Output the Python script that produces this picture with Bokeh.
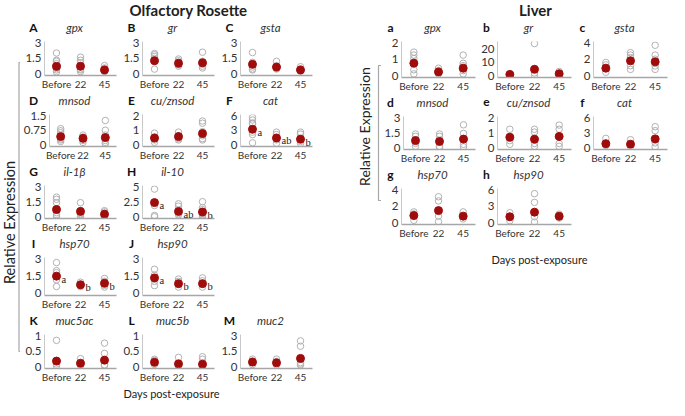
import math
from bokeh.plotting import figure
from bokeh.models import FactorRange, Range1d, FixedTicker, Label, LabelSet, ColumnDataSource, Spacer
from bokeh.layouts import row, column
from bokeh.embed import file_html
from bokeh.resources import INLINE

FONT = "Lato"
groups = ["Before", "22", "45"]

# ---------------- Olfactory rosette data ----------------
or_gpx_pts = [[2.0, 1.3, 1.2, 0.97, 0.5, 0.36, 0.17], [1.6, 1.3, 1.05, 0.64, 0.45, 0.36, 0.2], [0.78, 0.55, 0.44, 0.3, 0.2]]
or_gpx_mean = [0.7, 0.72, 0.36]
or_gr_pts = [[1.95, 1.83, 1.67, 1.47, 0.44], [1.42, 1.25, 1.1, 0.85, 0.72], [2.08, 1.2, 0.9, 0.72, 0.55]]
or_gr_mean = [1.25, 1.0, 1.05]
or_gsta_pts = [[2.05, 1.1, 0.64, 0.45, 0.36], [1.2, 0.75, 0.5, 0.45], [0.67, 0.45, 0.3, 0.22]]
or_gsta_mean = [0.9, 0.64, 0.36]
or_mnsod_pts = [[0.83, 0.72, 0.62, 0.3, 0.25, 0.17], [0.5, 0.4, 0.22, 0.12], [1.25, 0.75, 0.5, 0.22, 0.12, 0.05]]
or_mnsod_mean = [0.42, 0.33, 0.37]
or_cuzn_pts = [[0.8, 0.55, 0.33, 0.17], [0.87, 0.62, 0.42, 0.33], [1.63, 1.48, 0.9, 0.62, 0.42, 0.33]]
or_cuzn_mean = [0.46, 0.56, 0.77]
or_cat_pts = [[5.6, 5.1, 4.5, 4.3, 2.6, 2.1, 0.4], [2.6, 2.1, 1.0, 0.3], [2.6, 2.2, 0.7, 0.3]]
or_cat_mean = [3.2, 1.4, 1.15]
or_cat_sig = ["a", "ab", "b"]
or_il1b_pts = [[1.96, 1.74, 1.4, 0.4, 0.2, 0.06], [1.4, 0.62, 0.3, 0.2, 0.0], [0.6, 0.48, 0.34, 0.05]]
or_il1b_mean = [0.72, 0.53, 0.25]
or_il10_pts = [[4.6, 1.86, 0.2, 0.0], [2.15, 1.76, 0.54, 0.3], [2.5, 1.52, 1.18, 0.5, 0.3, 0.0]]
or_il10_mean = [2.35, 0.88, 0.78]
or_il10_sig = ["a", "ab", "b"]
or_hsp70_pts = [[2.68, 1.98, 1.8, 1.18, 0.6], [0.98, 0.7, 0.6], [1.3, 1.05, 0.7, 0.55]]
or_hsp70_mean = [1.5, 0.75, 0.88]
or_hsp70_sig = ["a", "b", "b"]
or_hsp90_pts = [[2.1, 1.6, 1.05, 0.68], [1.25, 1.05, 0.55], [1.35, 1.1, 0.55]]
or_hsp90_mean = [1.35, 0.85, 0.85]
or_hsp90_sig = ["a", "b", "b"]
or_muc5ac_pts = [[0.85, 0.09, 0.03], [0.26, 0.06, 0.04], [0.76, 0.43, 0.06, 0.04]]
or_muc5ac_mean = [0.18, 0.11, 0.21]
or_muc5b_pts = [[0.24, 0.2, 0.07], [0.3, 0.05, 0.01], [0.32, 0.24, 0.04, 0.01]]
or_muc5b_mean = [0.14, 0.09, 0.08]
or_muc2_pts = [[0.73, 0.55, 0.2], [0.73, 0.5, 0.15], [2.5, 1.98, 0.39, 0.25, 0.15]]
or_muc2_mean = [0.44, 0.37, 0.8]

# ---------------- Liver data ----------------
lv_gpx_pts = [[1.43, 1.25, 1.04, 0.84, 0.35, 0.1], [0.45, 0.3, 0.1], [1.25, 0.75, 0.6, 0.3, 0.1]]
lv_gpx_mean = [0.75, 0.22, 0.45]
lv_gr_pts = [[1.5, 0.5, 0.1], [24.0, 2.2, 0.4], [3.3, 0.4]]
lv_gr_mean = [1.1, 4.9, 1.6]
lv_gsta_pts = [[1.6, 1.3, 0.4], [2.8, 2.5, 2.2, 1.2, 0.75], [3.7, 2.5, 2.0, 1.17, 0.75]]
lv_gsta_mean = [0.9, 1.8, 1.67]
lv_mnsod_pts = [[1.37, 1.14, 0.43, 0.14], [1.37, 1.14, 0.14, 0.0], [2.29, 1.43, 0.34, 0.09]]
lv_mnsod_mean = [0.71, 0.63, 0.86]
lv_cuzn_pts = [[1.23, 0.47, 0.23], [1.23, 1.04, 0.28, 0.09], [1.51, 1.23, 0.28, 0.09]]
lv_cuzn_mean = [0.7, 0.57, 0.75]
lv_cat_pts = [[1.87, 0.43], [1.6, 0.27], [4.2, 3.4, 0.96, 0.16]]
lv_cat_mean = [0.8, 0.7, 1.76]
lv_hsp70_pts = [[1.3, 1.05, 0.27], [3.15, 2.64, 0.78, 0.1], [1.3, 0.44]]
lv_hsp70_mean = [0.85, 1.46, 0.78]
lv_hsp90_pts = [[1.8, 0.34], [5.3, 3.7, 1.06, 0.1], [1.54, 0.82]]
lv_hsp90_mean = [1.06, 1.9, 1.15]

# y ticks per panel
t_3 = [0, 1.5, 3]
t_15 = [0, 0.75, 1.5]
t_2 = [0, 1, 2]
t_6 = [0, 3, 6]
t_5 = [0, 2.5, 5]
t_1 = [0, 0.5, 1]
t_20 = [0, 10, 20]
t_4 = [0, 2, 4]

CIRCLE = "#b2b2b2"
MEAN = "#a00c0c"
TXT = "#333333"
HH = 15      # header strip height
LY = 7.5     # letter / gene (middle) inside header


def fmt(v):
    return ("%g" % v)


def panel(pts, means, ticks, W, H, BL, BR, BB, sig=None, yend=None):
    top = ticks[-1]
    end = yend if yend else top * 1.04
    p = figure(width=W, height=H, x_range=FactorRange(factors=groups),
               y_range=Range1d(-0.06 * top, end), output_backend="svg",
               toolbar_location=None, tools="", min_border_left=BL,
               min_border_right=BR, min_border_top=7, min_border_bottom=BB)
    p.outline_line_color = None
    p.grid.grid_line_color = None
    p.background_fill_color = "white"
    p.border_fill_color = "white"
    xa = p.xaxis[0]
    xa.axis_line_color = "#a6a6a6"
    xa.axis_line_width = 1.3
    xa.major_tick_line_color = None
    xa.minor_tick_line_color = None
    xa.major_tick_out = 0
    xa.major_tick_in = 0
    xa.major_label_standoff = 2
    xa.major_label_text_font = FONT
    xa.major_label_text_font_size = "10px"
    xa.major_label_text_color = TXT
    ya = p.yaxis[0]
    ya.ticker = FixedTicker(ticks=ticks)
    ya.major_label_overrides = {t: fmt(t) for t in ticks}
    ya.axis_line_color = "#c8c8c8"
    ya.major_tick_line_color = None
    ya.minor_tick_line_color = None
    ya.major_tick_out = 0
    ya.major_tick_in = 0
    ya.major_label_standoff = 3
    ya.major_label_text_font = FONT
    ya.major_label_text_font_size = "11.5px"
    ya.major_label_text_color = TXT

    xs = [g for g, vals in zip(groups, pts) for _ in vals]
    ys = [v for vals in pts for v in vals]
    p.scatter(x=xs, y=ys, size=6.5, marker="circle", fill_color=None,
              line_color=CIRCLE, line_width=1)
    p.scatter(x=groups, y=means, size=8, marker="circle", fill_color=MEAN,
              line_color=MEAN)
    if sig:
        src = ColumnDataSource(dict(x=groups, y=means, t=sig))
        p.add_layout(LabelSet(x="x", y="y", text="t", source=src, x_offset=5, y_offset=-3,
                              text_font=FONT, text_font_size="10.5px", text_color="#222222",
                              text_align="left", text_baseline="middle"))
    return p


def canvas(W, H):
    p = figure(width=W, height=H, x_range=Range1d(0, W), y_range=Range1d(H, 0),
               output_backend="svg", toolbar_location=None, tools="", min_border=0,
               x_axis_type=None, y_axis_type=None)
    p.outline_line_color = None
    p.background_fill_color = "white"
    p.border_fill_color = "white"
    return p


def add_text(p, x, y, text, size, style="normal", angle=0.0, color="#222222", align="center"):
    p.add_layout(Label(x=x, y=y, text=text, text_font=FONT, text_font_size=size,
                       text_font_style=style, text_color=color, angle=angle,
                       text_align=align, text_baseline="middle"))


def header(W, BL, BR, items):
    h = canvas(3 * W, HH)
    fw = W - BL - BR
    for c, (letter, gene) in enumerate(items):
        x0 = c * W + BL
        add_text(h, x0 - 11, LY, letter, "12px", style="bold", color="#111111")
        add_text(h, x0 + fw / 2 - 6, LY, gene, "11.5px", style="italic", color=TXT)
    return h


# ---------------- Olfactory block ----------------
OW, OBL, OBR, OBB = 98, 24, 2, 16
o_rows = [58, 56, 57, 62, 58]   # panel heights (below each header strip)

def orow(r, specs):
    H = o_rows[r]
    hdr = header(OW, OBL, OBR, [(s[0], s[1]) for s in specs])
    figs = [panel(s[2], s[3], s[4], OW, H, OBL, OBR, OBB, s[5] if len(s) > 5 else None) for s in specs]
    while len(figs) < 3:
        figs.append(Spacer(width=OW, height=H))
    return column(hdr, row(*figs))

o_r1 = orow(0, [("A", "gpx", or_gpx_pts, or_gpx_mean, t_3),
                ("B", "gr", or_gr_pts, or_gr_mean, t_3),
                ("C", "gsta", or_gsta_pts, or_gsta_mean, t_3)])
o_r2 = orow(1, [("D", "mnsod", or_mnsod_pts, or_mnsod_mean, t_15),
                ("E", "cu/znsod", or_cuzn_pts, or_cuzn_mean, t_2),
                ("F", "cat", or_cat_pts, or_cat_mean, t_6, or_cat_sig)])
o_r3 = orow(2, [("G", "il-1β", or_il1b_pts, or_il1b_mean, t_3),
                ("H", "il-10", or_il10_pts, or_il10_mean, t_5, or_il10_sig)])
o_r4 = orow(3, [("I", "hsp70", or_hsp70_pts, or_hsp70_mean, t_3, or_hsp70_sig),
                ("J", "hsp90", or_hsp90_pts, or_hsp90_mean, t_3, or_hsp90_sig)])
o_r5 = orow(4, [("K", "muc5ac", or_muc5ac_pts, or_muc5ac_mean, t_1),
                ("L", "muc5b", or_muc5b_pts, or_muc5b_mean, t_1),
                ("M", "muc2", or_muc2_pts, or_muc2_mean, t_3)])

o_rows_h = sum(HH + h for h in o_rows)
o_rel = canvas(20, o_rows_h)
add_text(o_rel, 9, 203, "Relative Expression", "14.5px", angle=math.pi / 2)
o_rel.line(x=[20, 18.5, 18.5, 20], y=[43, 43, 332, 332], line_color="#a6a6a6", line_width=1.2)

O_BW = 20 + 3 * OW
o_title = canvas(O_BW, 19)
add_text(o_title, 188, 9.5, "Olfactory Rosette", "15px", style="bold")
o_xlab = canvas(O_BW, 15)
add_text(o_xlab, 171, 7.5, "Days post-exposure", "11px")

o_block = column(o_title, row(o_rel, column(o_r1, o_r2, o_r3, o_r4, o_r5)), o_xlab)

# ---------------- Liver block ----------------
LW, LBL, LBR, LBB = 96, 20, 2, 16
l_rows = [60, 57, 60]

def lrow(r, specs):
    H = l_rows[r]
    hdr = header(LW, LBL, LBR, [(s[0], s[1]) for s in specs])
    figs = [panel(s[2], s[3], s[4], LW, H, LBL, LBR, LBB, None, s[5] if len(s) > 5 else None) for s in specs]
    while len(figs) < 3:
        figs.append(Spacer(width=LW, height=H))
    return column(hdr, row(*figs))

l_r1 = lrow(0, [("a", "gpx", lv_gpx_pts, lv_gpx_mean, t_2),
                ("b", "gr", lv_gr_pts, lv_gr_mean, t_20, 25.5),
                ("c", "gsta", lv_gsta_pts, lv_gsta_mean, t_4)])
l_r2 = lrow(1, [("d", "mnsod", lv_mnsod_pts, lv_mnsod_mean, t_3),
                ("e", "cu/znsod", lv_cuzn_pts, lv_cuzn_mean, t_2),
                ("f", "cat", lv_cat_pts, lv_cat_mean, t_6)])
l_r3 = lrow(2, [("g", "hsp70", lv_hsp70_pts, lv_hsp70_mean, t_4),
                ("h", "hsp90", lv_hsp90_pts, lv_hsp90_mean, t_6)])

L_BW = 355
l_relw = L_BW - 3 * LW
l_rows_h = sum(HH + h for h in l_rows)
l_rel = canvas(l_relw, l_rows_h)
add_text(l_rel, 50, 107, "Relative Expression", "14px", angle=math.pi / 2)
l_rel.line(x=[l_relw, 64, 64, l_relw], y=[46, 46, 181, 181], line_color="#a6a6a6", line_width=1.2)

l_title = canvas(L_BW, 19)
add_text(l_title, 221, 9.5, "Liver", "15px", style="bold")
l_xlab = canvas(L_BW, 31)
add_text(l_xlab, 225, 18, "Days post-exposure", "11px")

l_block = column(l_title, row(l_rel, column(l_r1, l_r2, l_r3)), l_xlab)

layout = row(o_block, l_block)

open("out.html", "w").write(file_html(layout, INLINE))
